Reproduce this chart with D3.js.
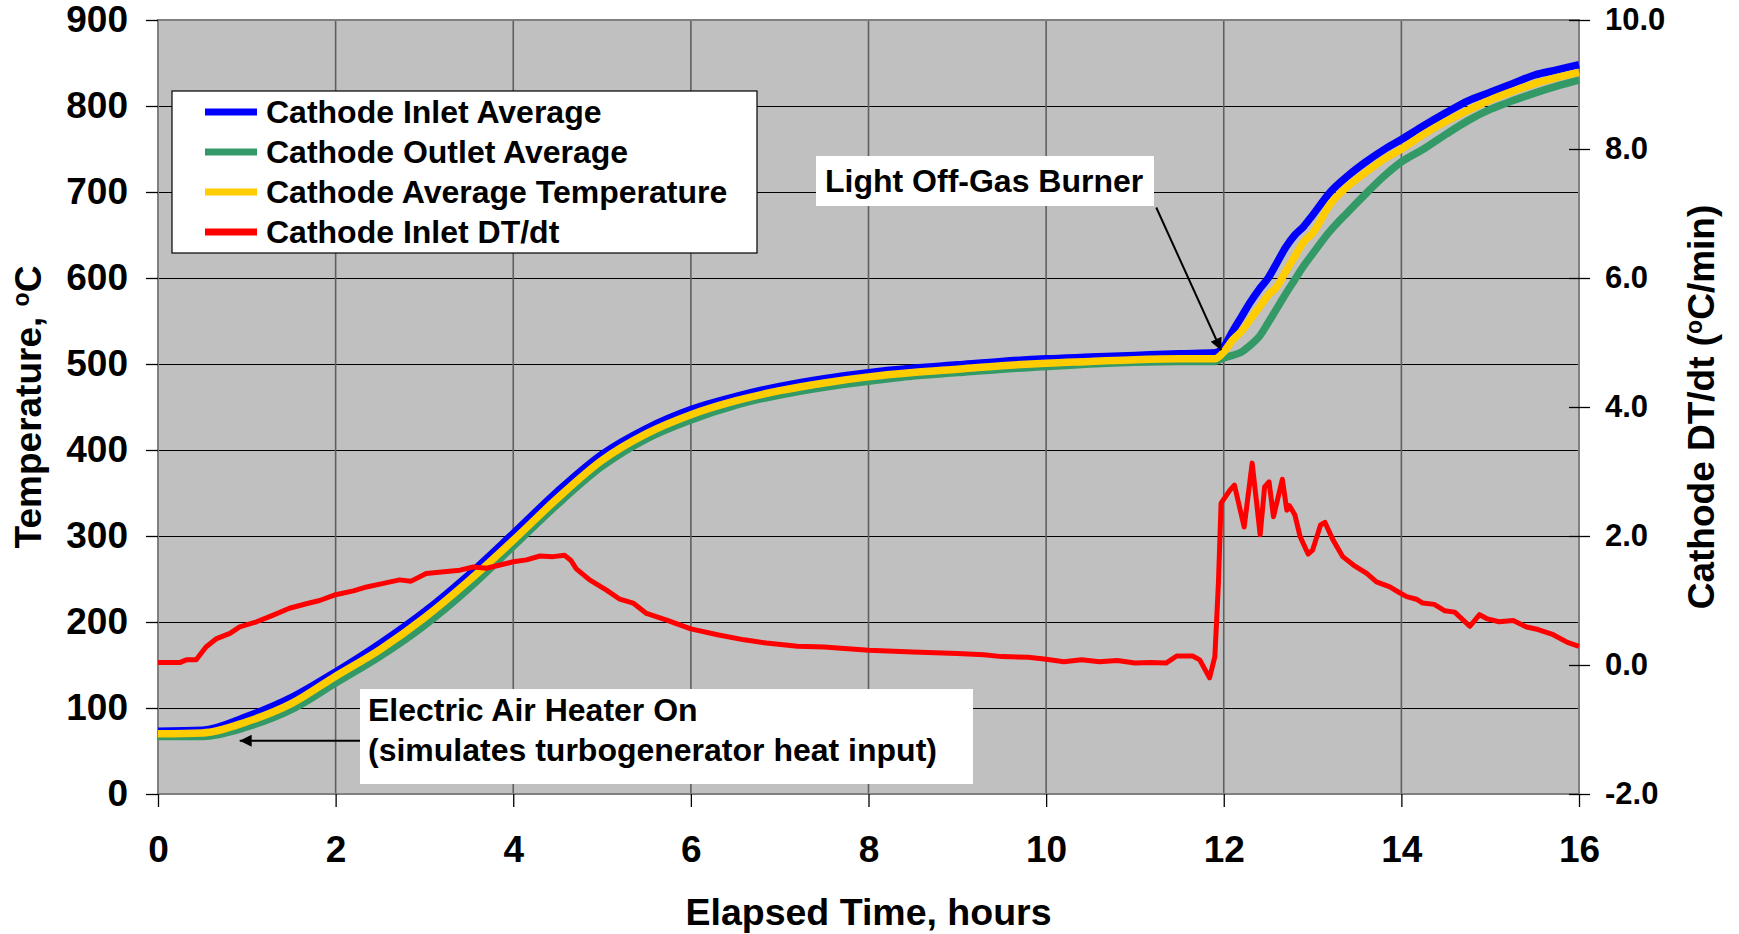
<!DOCTYPE html>
<html>
<head>
<meta charset="utf-8">
<script src="https://cdn.jsdelivr.net/npm/d3@7"></script>
<style>
  body { margin: 0; background: #fff; }
  svg { display: block; font-family: "Liberation Sans", Arial, sans-serif; font-weight: bold; }
</style>
</head>
<body>
<svg width="1739" height="934"></svg>
<script>
// temperature series (hours, deg C)
var hours = [0, 0.5, 1, 1.5, 2, 2.5, 3, 3.5, 4, 4.5, 5, 5.5, 6, 6.5, 7, 7.5, 8, 8.5, 9, 9.5, 10, 10.5, 11, 11.5, 11.9,
  12.0, 12.1, 12.2, 12.3, 12.4, 12.5, 12.6, 12.7, 12.8, 12.9, 13.0, 13.2, 13.4, 13.6, 13.8, 14.0, 14.25, 14.5, 14.75,
  15.0, 15.25, 15.5, 15.75, 16.0];
var inletAvg = [73, 74, 90, 112, 142, 175, 212, 255, 303, 352, 395, 425, 447, 462, 474, 483, 490, 495, 499, 503, 506, 508, 510, 512, 513,
  520, 538, 555, 572, 587, 600, 618, 636, 650, 660, 673, 700, 719, 735, 749, 761, 777, 792, 806,
  816, 826, 836, 842, 848];
var outletAvg = [67, 67, 78, 98, 129, 160, 196, 239, 288, 337, 381, 413, 435, 452, 464, 473, 480, 486, 490, 494, 497, 500, 502, 503, 503,
  507, 510, 514, 522, 532, 548, 565, 582, 598, 614, 628, 655, 677, 698, 718, 735, 750, 767, 783,
  796, 806, 815, 823, 830];
var cathodeAvg = [70, 71, 84, 105, 137, 168, 205, 248, 295, 344, 388, 419, 441, 457, 469, 478, 485, 490, 494, 498, 501, 503, 505, 506, 506,
  514, 528, 538, 552, 566, 580, 590, 608, 625, 642, 652, 686, 707, 723, 738, 750, 767, 782, 795,
  807, 817, 826, 833, 839];

// cathode inlet dT/dt (hours, deg C/min)
var rateHours = [0, 0.25, 0.32, 0.43, 0.54, 0.66, 0.81, 0.92, 1.11, 1.29, 1.48, 1.67, 1.82, 2.0, 2.2, 2.35, 2.55, 2.72, 2.85,
  3.02, 3.25, 3.4, 3.55, 3.7, 3.85, 4.0, 4.15, 4.3, 4.45, 4.58, 4.65, 4.71, 4.86, 5.05, 5.2, 5.35, 5.5, 5.72, 6.0,
  6.3, 6.6, 6.85, 7.2, 7.5, 8.0, 8.5, 9.0, 9.3, 9.5, 9.8, 10.0, 10.2, 10.4, 10.6, 10.8, 11.0, 11.17, 11.35, 11.47,
  11.65, 11.73, 11.84, 11.9, 11.94, 11.97, 12.07, 12.12, 12.23, 12.32, 12.41, 12.46, 12.51, 12.56, 12.66, 12.71,
  12.74, 12.8, 12.86, 12.95, 13.0, 13.09, 13.14, 13.23, 13.34, 13.46, 13.61, 13.72, 13.87, 13.98, 14.06, 14.17,
  14.24, 14.37, 14.49, 14.6, 14.77, 14.88, 14.96, 15.1, 15.26, 15.41, 15.54, 15.71, 15.87, 16.0];
var inletRate = [0.04, 0.04, 0.08, 0.08, 0.28, 0.41, 0.49, 0.59, 0.67, 0.77, 0.88, 0.95, 1.0, 1.09, 1.15, 1.21, 1.27, 1.32, 1.3,
  1.42, 1.45, 1.47, 1.52, 1.5, 1.55, 1.6, 1.63, 1.69, 1.68, 1.7, 1.62, 1.49, 1.32, 1.16, 1.02, 0.96, 0.8, 0.7, 0.56,
  0.47, 0.39, 0.34, 0.29, 0.28, 0.23, 0.2, 0.18, 0.16, 0.13, 0.12, 0.09, 0.05, 0.08, 0.05, 0.07, 0.03, 0.04, 0.03, 0.14,
  0.14, 0.08, -0.2, 0.13, 1.27, 2.51, 2.71, 2.79, 2.14, 3.13, 2.02, 2.76, 2.84, 2.3, 2.88, 2.4,
  2.47, 2.33, 1.99, 1.72, 1.78, 2.17, 2.21, 1.94, 1.68, 1.55, 1.42, 1.29, 1.21, 1.12, 1.06, 1.02,
  0.96, 0.94, 0.84, 0.82, 0.6, 0.78, 0.72, 0.67, 0.69, 0.59, 0.55, 0.47, 0.35, 0.29];

var tempTicks = [0, 100, 200, 300, 400, 500, 600, 700, 800, 900];
var rateTicks = [-2, 0, 2, 4, 6, 8, 10];
var timeTicks = [0, 2, 4, 6, 8, 10, 12, 14, 16];

var seriesNames = ["Cathode Inlet Average", "Cathode Outlet Average", "Cathode Average Temperature", "Cathode Inlet DT/dt"];
var seriesColors = ["#0000ff", "#339966", "#ffcc00", "#ff0000"];

var svg = d3.select("svg"),
	plot = {left: 158, right: 1579, top: 20, bottom: 794};

var x = d3.scaleLinear().domain([0, 16]).range([plot.left, plot.right]),
	yT = d3.scaleLinear().domain([0, 900]).range([plot.bottom, plot.top]),
	yR = d3.scaleLinear().domain([-2, 10]).range([plot.bottom, plot.top]);

// plot background
svg.append("rect")
	.attr("x", plot.left).attr("y", plot.top)
	.attr("width", plot.right - plot.left).attr("height", plot.bottom - plot.top)
	.attr("fill", "#c0c0c0");

// gridlines
svg.append("g").selectAll("line")
	.data(tempTicks.slice(1, -1))
	.enter().append("line")
	.attr("x1", plot.left).attr("x2", plot.right)
	.attr("y1", function(d){ return yT(d) + 0.5 }).attr("y2", function(d){ return yT(d) + 0.5 })
	.attr("stroke", "#000").attr("stroke-width", 1.2);

svg.append("g").selectAll("line")
	.data(timeTicks.slice(1, -1))
	.enter().append("line")
	.attr("y1", plot.top).attr("y2", plot.bottom)
	.attr("x1", function(d){ return x(d) }).attr("x2", function(d){ return x(d) })
	.attr("stroke", "#606060").attr("stroke-width", 1.6);

svg.append("rect")
	.attr("x", plot.left).attr("y", plot.top)
	.attr("width", plot.right - plot.left).attr("height", plot.bottom - plot.top)
	.attr("fill", "none").attr("stroke", "#808080").attr("stroke-width", 2);

// axes
var left = svg.append("g")
	.attr("transform", "translate(" + plot.left + ",0)")
	.call(d3.axisLeft(yT).tickValues(tempTicks).tickSize(12).tickSizeOuter(0).tickPadding(18));

var right = svg.append("g")
	.attr("transform", "translate(" + plot.right + ",0)")
	.call(d3.axisRight(yR).tickValues(rateTicks).tickSize(11).tickSizeOuter(0).tickPadding(15)
		.tickFormat(function(d){ return d.toFixed(1) }));
right.selectAll(".tick line").attr("x1", -10);

var bottom = svg.append("g")
	.attr("transform", "translate(0," + plot.bottom + ")")
	.call(d3.axisBottom(x).tickValues(timeTicks).tickSize(13).tickSizeOuter(0).tickPadding(29));

[left, right, bottom].forEach(function(a){
	a.select(".domain").remove();
	a.selectAll(".tick line").attr("stroke", "#000").attr("stroke-width", 1.3);
	a.selectAll("text").attr("fill", "#000").attr("font-family", null);
});
left.selectAll("text").style("font-size", "37px");
right.selectAll("text").style("font-size", "31px");
bottom.selectAll("text").style("font-size", "37px");

// axis titles
svg.append("text")
	.attr("x", (plot.left + plot.right) / 2).attr("y", 925)
	.attr("text-anchor", "middle")
	.style("font-size", "37.5px")
	.text("Elapsed Time, hours");

var lt = svg.append("text")
	.attr("transform", "translate(41,407) rotate(-90)")
	.attr("text-anchor", "middle")
	.style("font-size", "37px");
lt.append("tspan").text("Temperature, ");
lt.append("tspan").attr("font-size", "23px").attr("dy", "-12").text("o");
lt.append("tspan").attr("dy", "12").text("C");

var rt = svg.append("text")
	.attr("transform", "translate(1714,407) rotate(-90)")
	.attr("text-anchor", "middle")
	.style("font-size", "37px");
rt.append("tspan").text("Cathode DT/dt (");
rt.append("tspan").attr("font-size", "23px").attr("dy", "-12").text("o");
rt.append("tspan").attr("dy", "12").text("C/min)");

// lines
function tempLine(values) {
	return d3.line()
		.x(function(d, i){ return x(hours[i]) })
		.y(function(d){ return yT(d) })
		.curve(d3.curveMonotoneX)(values);
}

var g = svg.append("g")
	.attr("fill", "none")
	.attr("stroke-linejoin", "round");

g.append("path").attr("d", tempLine(inletAvg)).attr("stroke", seriesColors[0]).attr("stroke-width", 7.5);
g.append("path").attr("d", tempLine(outletAvg)).attr("stroke", seriesColors[1]).attr("stroke-width", 7.5);
g.append("path").attr("d", tempLine(cathodeAvg)).attr("stroke", seriesColors[2]).attr("stroke-width", 7.5);

g.append("path")
	.attr("d", d3.line()
		.x(function(d, i){ return x(rateHours[i]) })
		.y(function(d){ return yR(d) })(inletRate))
	.attr("stroke", seriesColors[3]).attr("stroke-width", 5);

// legend
var legend = svg.append("g");
legend.append("rect")
	.attr("x", 172).attr("y", 91).attr("width", 585).attr("height", 162)
	.attr("fill", "#fff").attr("stroke", "#000").attr("stroke-width", 1.2);

var rows = legend.selectAll(".row")
	.data(seriesNames)
	.enter().append("g")
	.attr("class", "row")
	.attr("transform", function(d, i){ return "translate(0," + (112 + i * 40) + ")" });
rows.append("line")
	.attr("x1", 205).attr("x2", 257)
	.attr("stroke", function(d, i){ return seriesColors[i] })
	.attr("stroke-width", 7);
rows.append("text")
	.attr("x", 266).attr("y", 11)
	.style("font-size", "32px")
	.text(function(d){ return d });

// annotations
var defs = svg.append("defs");
defs.append("marker")
	.attr("id", "head")
	.attr("viewBox", "0 0 10 10")
	.attr("refX", 10).attr("refY", 5)
	.attr("markerWidth", 16).attr("markerHeight", 12)
	.attr("markerUnits", "userSpaceOnUse")
	.attr("orient", "auto")
	.append("path").attr("d", "M0,0L10,5L0,10Z").attr("fill", "#000");

svg.append("rect")
	.attr("x", 816).attr("y", 156).attr("width", 338).attr("height", 50)
	.attr("fill", "#fff");
svg.append("text")
	.attr("x", 825).attr("y", 192)
	.style("font-size", "32px")
	.text("Light Off-Gas Burner");
svg.append("line")
	.attr("x1", x(11.24)).attr("y1", yT(682))
	.attr("x2", x(11.97)).attr("y2", yT(516))
	.attr("stroke", "#000").attr("stroke-width", 2)
	.attr("marker-end", "url(#head)");

svg.append("rect")
	.attr("x", 360).attr("y", 689).attr("width", 613).attr("height", 95)
	.attr("fill", "#fff");
svg.append("text")
	.attr("x", 368).attr("y", 721)
	.style("font-size", "32px")
	.text("Electric Air Heater On");
svg.append("text")
	.attr("x", 368).attr("y", 761)
	.style("font-size", "32px")
	.text("(simulates turbogenerator heat input)");
svg.append("line")
	.attr("x1", 360).attr("y1", yT(62))
	.attr("x2", x(0.92)).attr("y2", yT(62))
	.attr("stroke", "#000").attr("stroke-width", 2)
	.attr("marker-end", "url(#head)");
</script>
</body>
</html>
